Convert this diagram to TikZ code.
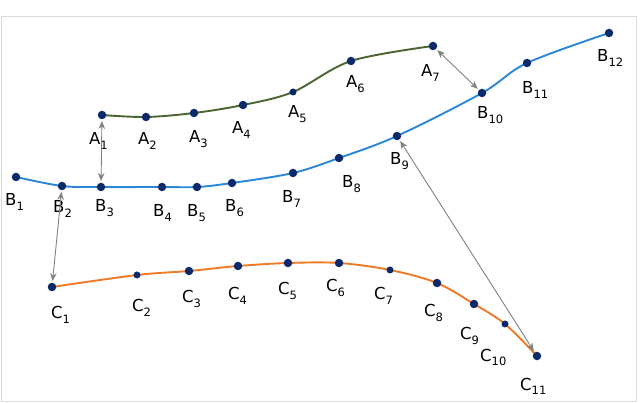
\documentclass[tikz,border=0pt]{standalone}
\usepackage{fontspec}
\setmainfont{DejaVu Sans}
\usetikzlibrary{arrows.meta}
\definecolor{dotblue}{HTML}{0B2A6B}
\definecolor{agreen}{HTML}{4A6530}
\definecolor{bblue}{HTML}{2A86D6}
\definecolor{corange}{HTML}{F07A26}
\definecolor{arrgray}{HTML}{808080}
\definecolor{framegray}{HTML}{DADADA}
\newcommand\lbl[2]{#1\raisebox{-4.2pt}{\fontsize{11.5}{11.5}\selectfont #2}}
\tikzset{
  pt/.style={circle, fill=dotblue, inner sep=0pt, minimum size=8.5pt},
  ptsmall/.style={circle, fill=dotblue, inner sep=0pt, minimum size=7pt},
  lab/.style={anchor=base west, inner sep=0pt, font=\fontsize{16.5}{18}\selectfont},
  acurve/.style={draw=agreen, line width=1.9pt},
  bcurve/.style={draw=bblue, line width=1.9pt},
  ccurve/.style={draw=corange, line width=1.9pt},
  link/.style={draw=arrgray, line width=0.9pt, {Stealth[length=8pt,width=6.5pt]}-{Stealth[length=8pt,width=6.5pt]}, shorten <=1.5pt, shorten >=1.5pt}
}
\begin{document}
\begin{tikzpicture}[x=1pt,y=-1pt]
\useasboundingbox (0,0) rectangle (640,403);
\draw[framegray, line width=1pt] (1.5,17) rectangle (636,401);
% positions
\foreach \n/\x/\y in {A1/102/115, A2/146/117, A3/194/113, A4/243/105, A5/293/92, A6/351/61, A7/433/46,
  B1/16/177, B2/62/186, B3/101/187, B4/162/187, B5/197/187, B6/232/183, B7/293/173, B8/339/158, B9/397/136, B10/482/93, B11/527/63, B12/609/33,
  C1/52/287, C2/137/275, C3/189/271, C4/238/266, C5/288/263, C6/339/263, C7/390/270, C8/437/283, C9/474/304, C10/505/324, C11/537/356}
  {\coordinate (p\n) at (\x,\y);}
% curves
\draw[acurve] plot[smooth, tension=0.55] coordinates {(pA1) (pA2) (pA3) (pA4) (pA5) (pA6) (pA7)};
\draw[bcurve] plot[smooth, tension=0.55] coordinates {(pB1) (pB2) (pB3) (pB4) (pB5) (pB6) (pB7) (pB8) (pB9) (pB10) (pB11) (pB12)};
\draw[ccurve] plot[smooth, tension=0.55] coordinates {(pC1) (pC2) (pC3) (pC4) (pC5) (pC6) (pC7) (pC8) (pC9) (pC10) (pC11)};
% dots
\foreach \n in {A1,A2,A3,A4,A6,A7,B1,B2,B3,B4,B5,B6,B7,B8,B9,B10,B11,B12,C1,C3,C4,C5,C6,C8,C9,C11}
  {\node[pt] (\n) at (p\n) {};}
\foreach \n in {A5,C2,C7,C10}
  {\node[ptsmall] (\n) at (p\n) {};}
% labels
\node[lab] (lA1) at (89,145) {\lbl{A}{1}};
\node[lab] (lA2) at (138,145) {\lbl{A}{2}};
\node[lab] (lA3) at (189,143) {\lbl{A}{3}};
\node[lab] (lA4) at (232,134) {\lbl{A}{4}};
\node[lab] (lA5) at (288,118) {\lbl{A}{5}};
\node[lab] (lA6) at (346,88) {\lbl{A}{6}};
\node[lab] (lA7) at (421,77) {\lbl{A}{7}};
\node[lab] (lB1) at (5,206) {\lbl{B}{1}};
\node[lab] (lB2) at (53,213) {\lbl{B}{2}};
\node[lab] (lB3) at (95,212) {\lbl{B}{3}};
\node[lab] (lB4) at (153,217) {\lbl{B}{4}};
\node[lab] (lB5) at (187,217) {\lbl{B}{5}};
\node[lab] (lB6) at (225,212) {\lbl{B}{6}};
\node[lab] (lB7) at (282,203) {\lbl{B}{7}};
\node[lab] (lB8) at (342,188) {\lbl{B}{8}};
\node[lab] (lB9) at (390,165) {\lbl{B}{9}};
\node[lab] (lB10) at (477,119) {\lbl{B}{10}};
\node[lab] (lB11) at (522,94) {\lbl{B}{11}};
\node[lab] (lB12) at (597,62) {\lbl{B}{12}};
\node[lab] (lC1) at (51,319) {\lbl{C}{1}};
\node[lab] (lC2) at (132,312) {\lbl{C}{2}};
\node[lab] (lC3) at (182,303) {\lbl{C}{3}};
\node[lab] (lC4) at (228,300) {\lbl{C}{4}};
\node[lab] (lC5) at (278,295) {\lbl{C}{5}};
\node[lab] (lC6) at (326,292) {\lbl{C}{6}};
\node[lab] (lC7) at (374,300) {\lbl{C}{7}};
\node[lab] (lC8) at (424,317) {\lbl{C}{8}};
\node[lab] (lC9) at (460,340) {\lbl{C}{9}};
\node[lab] (lC10) at (480,361) {\lbl{C}{10}};
\node[lab] (lC11) at (520,390) {\lbl{C}{11}};
% links
\draw[link] (A1) -- (B3);
\draw[link] (B2) -- (C1);
\draw[link] (A7) -- (B10);
\draw[link] (B9) -- (C11);
\end{tikzpicture}
\end{document}
